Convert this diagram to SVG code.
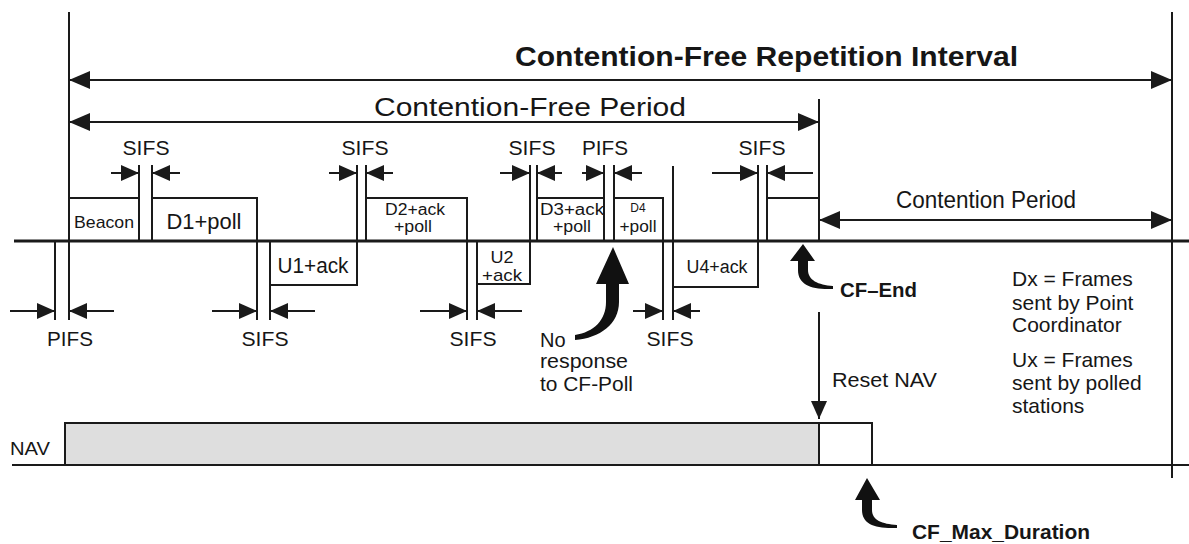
<svg xmlns="http://www.w3.org/2000/svg" width="1189" height="544" viewBox="0 0 1189 544">
<defs>
<style>
.ln{stroke:#1a1a1a;stroke-width:2;fill:none}
.ax{stroke:#1a1a1a;stroke-width:3;fill:none}
.box{stroke:#1a1a1a;stroke-width:2;fill:#fff}
.t{font-family:"Liberation Sans",Arial,sans-serif;fill:#161616}
.b{font-weight:bold}
.arr{stroke:#1a1a1a;stroke-width:2;fill:none;marker-end:url(#ah)}
.dbl{stroke:#1a1a1a;stroke-width:2;fill:none;marker-start:url(#ahL);marker-end:url(#ahL)}
.blob{fill:#111}
</style>
<marker id="ah" viewBox="0 0 18 16" refX="18" refY="8" markerWidth="18" markerHeight="16" markerUnits="userSpaceOnUse" orient="auto-start-reverse"><path d="M0,0 L18,8 L0,16 Z" fill="#1a1a1a"/></marker>
<marker id="ahL" viewBox="0 0 21 18" refX="21" refY="9" markerWidth="21" markerHeight="18" markerUnits="userSpaceOnUse" orient="auto-start-reverse"><path d="M0,0 L21,9 L0,18 Z" fill="#1a1a1a"/></marker>
</defs>
<rect width="1189" height="544" fill="#fff"/>

<!-- interval labels -->
<g id="intervals">
<line class="ln" x1="69" y1="12" x2="69" y2="320"/>
<line class="ln" x1="1172" y1="12" x2="1172" y2="478"/>
<line class="ln" x1="819" y1="99" x2="819" y2="241"/>
<line class="dbl" x1="69" y1="80" x2="1172" y2="80"/>
<text class="t b" x="515" y="66" font-size="27" textLength="503" lengthAdjust="spacingAndGlyphs">Contention-Free Repetition Interval</text>
<line class="dbl" x1="69" y1="122" x2="819" y2="122"/>
<text class="t" x="374" y="116" font-size="25" textLength="312" lengthAdjust="spacingAndGlyphs">Contention-Free Period</text>
<line class="dbl" x1="819" y1="220" x2="1172" y2="220"/>
<text class="t" x="896" y="208" font-size="23" textLength="180" lengthAdjust="spacingAndGlyphs">Contention Period</text>
</g>

<!-- time axis -->
<line id="axis" class="ax" x1="14" y1="241" x2="1189" y2="241"/>

<!-- frames -->
<g id="beacon">
<path class="ln" d="M69,241 V198 H139 V241"/>
<text class="t" x="104" y="228" font-size="17" text-anchor="middle" textLength="60" lengthAdjust="spacingAndGlyphs">Beacon</text>
</g>
<g id="d1">
<path class="ln" d="M152,241 V198 H257 V241"/>
<text class="t" x="204" y="229" font-size="22" text-anchor="middle" textLength="75" lengthAdjust="spacingAndGlyphs">D1+poll</text>
</g>
<g id="u1">
<path class="ln" d="M270,241 V285 H357 V241"/>
<text class="t" x="313" y="273" font-size="22" text-anchor="middle" textLength="71" lengthAdjust="spacingAndGlyphs">U1+ack</text>
</g>
<g id="d2">
<path class="ln" d="M366,241 V198 H467 V241"/>
<text class="t" x="415" y="215" font-size="16" text-anchor="middle" textLength="60" lengthAdjust="spacingAndGlyphs">D2+ack</text>
<text class="t" x="413" y="232" font-size="16" text-anchor="middle" textLength="38" lengthAdjust="spacingAndGlyphs">+poll</text>
</g>
<g id="u2">
<path class="ln" d="M477,241 V284 H530 V241"/>
<text class="t" x="502" y="263" font-size="17" text-anchor="middle" textLength="23" lengthAdjust="spacingAndGlyphs">U2</text>
<text class="t" x="502" y="281" font-size="17" text-anchor="middle" textLength="40" lengthAdjust="spacingAndGlyphs">+ack</text>
</g>
<g id="d3">
<path class="ln" d="M537,241 V198 H604 V241"/>
<text class="t" x="540" y="215" font-size="16" textLength="64" lengthAdjust="spacingAndGlyphs">D3+ack</text>
<text class="t" x="572" y="232" font-size="16" text-anchor="middle" textLength="38" lengthAdjust="spacingAndGlyphs">+poll</text>
</g>
<g id="d4">
<path class="ln" d="M614,241 V198 H663 V241"/>
<text class="t" x="638" y="212" font-size="12" text-anchor="middle">D4</text>
<text class="t" x="638" y="232" font-size="16" text-anchor="middle" textLength="37" lengthAdjust="spacingAndGlyphs">+poll</text>
</g>
<g id="u4">
<path class="ln" d="M673,241 V287 H758 V241"/>
<text class="t" x="717" y="273" font-size="18" text-anchor="middle" textLength="61" lengthAdjust="spacingAndGlyphs">U4+ack</text>
</g>
<g id="cfend">
<path class="ln" d="M767,241 V198 H819"/>
</g>

<!-- gap markers and connectors -->
<g id="connectors">
<path class="ln" d="M55,241 V320 M139,165 V241 M152,165 V241 M257,241 V320 M270,241 V320 M357,165 V241 M366,165 V241 M467,241 V320 M477,241 V320 M530,165 V241 M537,165 V241 M604,165 V241 M614,165 V241 M663,241 V320 M673,166 V320 M758,165 V241 M767,165 V241"/>
<line class="arr" x1="111" y1="173" x2="139" y2="173"/>
<line class="arr" x1="180" y1="173" x2="152" y2="173"/>
<line class="arr" x1="329" y1="173" x2="357" y2="173"/>
<line class="arr" x1="393" y1="173" x2="366" y2="173"/>
<line class="arr" x1="500" y1="173" x2="530" y2="173"/>
<line class="arr" x1="562" y1="173" x2="537" y2="173"/>
<line class="arr" x1="582" y1="173" x2="604" y2="173"/>
<line class="arr" x1="642" y1="173" x2="614" y2="173"/>
<line class="arr" x1="712" y1="173" x2="758" y2="173"/>
<line class="arr" x1="813" y1="173" x2="767" y2="173"/>
<line class="arr" x1="10" y1="311" x2="55" y2="311"/>
<line class="arr" x1="114" y1="311" x2="69" y2="311"/>
<line class="arr" x1="212" y1="311" x2="257" y2="311"/>
<line class="arr" x1="315" y1="311" x2="270" y2="311"/>
<line class="arr" x1="420" y1="311" x2="467" y2="311"/>
<line class="arr" x1="522" y1="311" x2="477" y2="311"/>
<line class="arr" x1="633" y1="311" x2="663" y2="311"/>
<line class="arr" x1="700" y1="311" x2="673" y2="311"/>
<line class="arr" x1="819" y1="312" x2="819" y2="419"/>
<path class="blob" d="M613,247 L629,284 L619,284 L619,302 C619,324 600,338 575,340 L575,335 C594,332 606,320 606,302 L606,284 L596,284 Z"/>
<path class="blob" d="M803,244 L815,261 L808,261 L808,270 C808,280 818,285 833,286 L833,289 C812,290 798,285 798,270 L798,261 L790,261 Z"/>
<path class="blob" d="M867,478 L880,500 L872,500 L872,510 C872,520 882,524 897,525 L897,528 C875,529 862,524 862,510 L862,500 L855,500 Z"/>
</g>

<g id="gaplabels" font-size="21">
<text class="t" x="146" y="155" text-anchor="middle" textLength="47" lengthAdjust="spacingAndGlyphs">SIFS</text>
<text class="t" x="365" y="155" text-anchor="middle" textLength="47" lengthAdjust="spacingAndGlyphs">SIFS</text>
<text class="t" x="532" y="155" text-anchor="middle" textLength="47" lengthAdjust="spacingAndGlyphs">SIFS</text>
<text class="t" x="605" y="155" text-anchor="middle" textLength="46" lengthAdjust="spacingAndGlyphs">PIFS</text>
<text class="t" x="762" y="155" text-anchor="middle" textLength="47" lengthAdjust="spacingAndGlyphs">SIFS</text>
<text class="t" x="70" y="346" text-anchor="middle" textLength="46" lengthAdjust="spacingAndGlyphs">PIFS</text>
<text class="t" x="265" y="346" text-anchor="middle" textLength="47" lengthAdjust="spacingAndGlyphs">SIFS</text>
<text class="t" x="473" y="346" text-anchor="middle" textLength="47" lengthAdjust="spacingAndGlyphs">SIFS</text>
<text class="t" x="670" y="346" text-anchor="middle" textLength="47" lengthAdjust="spacingAndGlyphs">SIFS</text>
</g>

<g id="noresponse">
<text class="t" x="540" y="347" font-size="20">No</text>
<text class="t" x="540" y="368" font-size="20" textLength="88" lengthAdjust="spacingAndGlyphs">response</text>
<text class="t" x="540" y="391" font-size="20" textLength="93" lengthAdjust="spacingAndGlyphs">to CF-Poll</text>
</g>

<text id="cfendlabel" class="t b" x="840" y="297" font-size="21" textLength="77" lengthAdjust="spacingAndGlyphs">CF–End</text>

<g id="legend" font-size="21">
<text class="t" x="1012" y="286">Dx = Frames</text>
<text class="t" x="1012" y="310">sent by Point</text>
<text class="t" x="1012" y="332">Coordinator</text>
<text class="t" x="1012" y="367">Ux = Frames</text>
<text class="t" x="1012" y="390">sent by polled</text>
<text class="t" x="1012" y="413">stations</text>
</g>

<text id="resetnav" class="t" x="832" y="387" font-size="21" textLength="105" lengthAdjust="spacingAndGlyphs">Reset NAV</text>

<g id="nav">
<rect x="65" y="423" width="754" height="42" fill="#dedede"/>
<path class="ln" d="M12,465 H1189 M65,465 V423 H872 V465 M819,423 V465" stroke-width="2.5"/>
<text class="t" x="10" y="455" font-size="19" textLength="40" lengthAdjust="spacingAndGlyphs">NAV</text>
</g>

<text id="cfmax" class="t b" x="912" y="539" font-size="21" textLength="178" lengthAdjust="spacingAndGlyphs">CF_Max_Duration</text>
</svg>
